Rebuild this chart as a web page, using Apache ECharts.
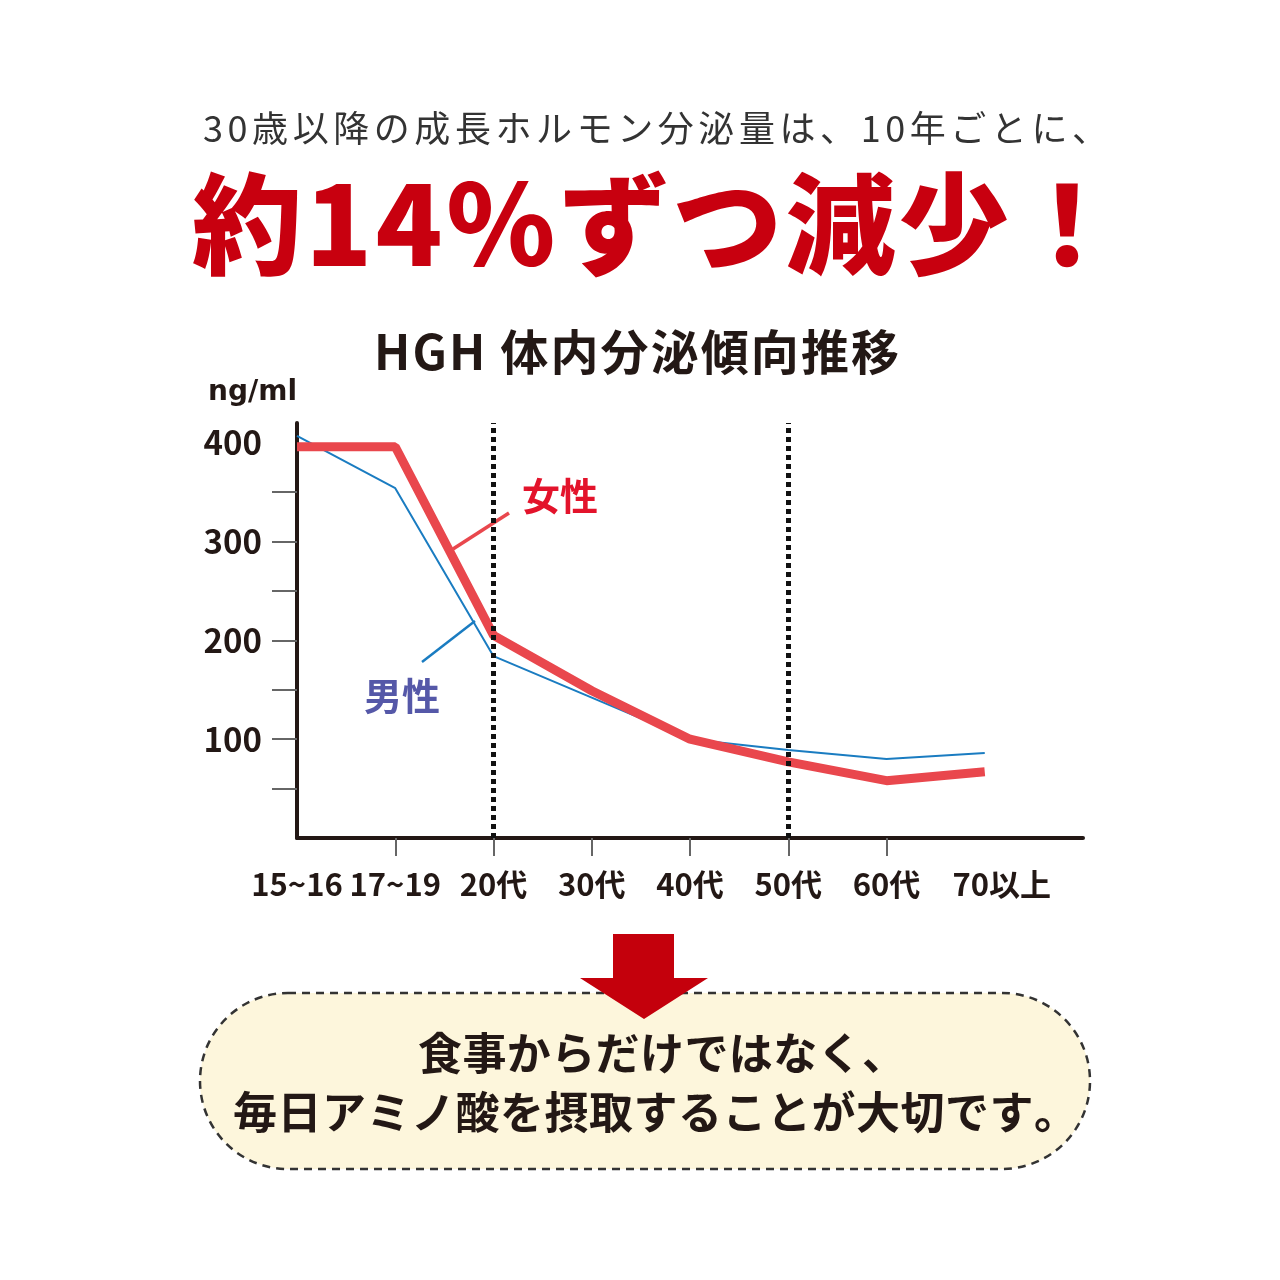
<!DOCTYPE html>
<html lang="ja">
<head>
<meta charset="utf-8">
<title>HGH 体内分泌傾向推移</title>
<script src="https://cdn.jsdelivr.net/npm/echarts@6/dist/echarts.min.js"></script>
<style>
  html, body { margin: 0; padding: 0; background: #ffffff; }
  #chart { width: 1280px; height: 1280px; }
</style>
</head>
<body>
<div id="chart"></div>
<script>
// Age groups along the x axis (the trailing blank slot extends the axis line)
const ageGroups = ['15~16', '17~19', '20代', '30代', '40代', '50代', '60代', '70以上', ''];
// HGH secretion, ng/ml
const femaleValues = [396, 396, 205, 149, 100, 77, 58, 67];
const maleValues = [407, 354, 184, 142, 100, 89, 80, 86];
// Decade boundaries marked with dotted lines
const markedGroups = ['20代', '50代'];
// Y axis labels and minor ticks
const yLabelValues = [100, 200, 300, 400];
const yTickValues = [50, 100, 150, 200, 250, 300, 350];

const headline1 = '30歳以降の成長ホルモン分泌量は、10年ごとに、';
const headline2 = '約14％ずつ減少！';
const chartTitle = 'HGH 体内分泌傾向推移';
const message1 = '食事からだけではなく、';
const message2 = '毎日アミノ酸を摂取することが大切です。';
const femaleName = '女性';
const maleName = '男性';
const unitName = 'ng/ml';

const JP = "'Noto Sans CJK JP', 'Noto Sans', sans-serif";
const INK = '#231815';

// Lay a string out character by character so it fills [x0, x1]
const measureCtx = document.createElement('canvas').getContext('2d');
function spreadText(str, x0, x1, yMid, weight, size, color) {
  const font = weight + ' ' + size + 'px ' + JP;
  measureCtx.font = font;
  const chars = Array.from(str);
  const widths = chars.map(c => measureCtx.measureText(c).width);
  const total = widths.reduce((a, b) => a + b, 0);
  const gap = chars.length > 1 ? (x1 - x0 - total) / (chars.length - 1) : 0;
  let x = x0;
  return chars.map((c, i) => {
    const el = {
      type: 'text',
      x: x,
      y: yMid,
      silent: true,
      style: {
        text: c,
        font: font,
        fill: color,
        align: 'left',
        verticalAlign: 'middle',
        textAlign: 'left',
        textVerticalAlign: 'middle'
      }
    };
    x += widths[i] + gap;
    return el;
  });
}

const chart = echarts.init(document.getElementById('chart'), null, { renderer: 'canvas' });

const graphics = [].concat(
  spreadText(headline1, 203, 1108, 128, 'normal', 36, '#333333'),
  spreadText(headline2, 192, 1122, 224, '900', 110, '#c8000f'),
  spreadText(chartTitle, 374, 899, 352, 'bold', 48, INK),
  [
    // message box
    {
      type: 'rect',
      shape: { x: 200, y: 993, width: 890, height: 176, r: 88 },
      style: { fill: '#fdf6dc', stroke: '#333333', lineWidth: 2.5, lineDash: [8, 6] },
      z: 1, silent: true
    },
    // down arrow
    {
      type: 'polygon',
      shape: { points: [[613, 934], [674, 934], [674, 978], [708, 978], [644, 1019], [580, 978], [613, 978]] },
      style: { fill: '#c4000c' },
      z: 3, silent: true
    },
    // series callouts
    {
      type: 'line',
      shape: { x1: 453, y1: 549, x2: 509, y2: 513 },
      style: { stroke: '#e9474d', lineWidth: 3.5 },
      z: 5, silent: true
    },
    {
      type: 'text', x: 560, y: 496, silent: true, z: 5,
      style: { text: femaleName, font: 'bold 38px ' + JP, fill: '#e3132b', align: 'center', verticalAlign: 'middle', textAlign: 'center', textVerticalAlign: 'middle' }
    },
    {
      type: 'line',
      shape: { x1: 422, y1: 662, x2: 475, y2: 621 },
      style: { stroke: '#1a7cc1', lineWidth: 2.5 },
      z: 5, silent: true
    },
    {
      type: 'text', x: 402, y: 696, silent: true, z: 5,
      style: { text: maleName, font: 'bold 38px ' + JP, fill: '#5558a8', align: 'center', verticalAlign: 'middle', textAlign: 'center', textVerticalAlign: 'middle' }
    }
  ],
  spreadText(message1, 418, 906, 1053, 'bold', 44, INK).map(e => Object.assign(e, { z: 4 })),
  spreadText(message2, 233, 1078, 1112, 'bold', 44, INK).map(e => Object.assign(e, { z: 4 }))
);

const option = {
  backgroundColor: '#ffffff',
  animation: false,
  grid: { left: 297, right: 197, top: 423, bottom: 442, containLabel: false },
  xAxis: {
    type: 'category',
    data: ageGroups,
    boundaryGap: false,
    axisLine: { show: true, lineStyle: { color: INK, width: 4 } },
    axisTick: {
      show: true,
      length: 18,
      interval: (idx) => idx >= 1 && idx <= 6,
      lineStyle: { color: '#666666', width: 2 }
    },
    axisLabel: {
      interval: 0,
      margin: 46,
      verticalAlign: 'middle',
      fontFamily: JP,
      fontWeight: 'bold',
      fontSize: 31,
      color: INK,
      formatter: (value, index) => index === 7 ? '{s|' + value + '}' : value,
      rich: {
        s: { padding: [0, 0, 0, 34], fontFamily: JP, fontWeight: 'bold', fontSize: 31, color: INK }
      }
    },
    splitLine: { show: false }
  },
  yAxis: {
    type: 'value',
    min: 0,
    max: 420,
    name: unitName,
    nameLocation: 'end',
    nameGap: 30,
    nameTextStyle: { fontFamily: "'DejaVu Sans', sans-serif", fontWeight: 'bold', fontSize: 28, color: INK, align: 'right', verticalAlign: 'middle' },
    axisLine: { show: true, lineStyle: { color: INK, width: 4 } },
    axisTick: {
      show: true,
      length: 25,
      customValues: yTickValues,
      lineStyle: { color: '#666666', width: 2 }
    },
    axisLabel: {
      margin: 35,
      customValues: yLabelValues,
      fontFamily: JP,
      fontWeight: 'bold',
      fontSize: 33,
      color: INK
    },
    splitLine: { show: false }
  },
  series: [
    {
      name: maleName,
      type: 'line',
      data: maleValues,
      symbol: 'none',
      lineStyle: { color: '#1a7cc1', width: 2 },
      z: 3,
      silent: true
    },
    {
      name: femaleName,
      type: 'line',
      data: femaleValues,
      symbol: 'none',
      lineStyle: { color: '#e9474d', width: 9 },
      z: 4,
      silent: true,
      markLine: {
        silent: true,
        symbol: ['none', 'none'],
        label: { show: false },
        lineStyle: { color: '#111111', width: 5, type: [5, 4] },
        emphasis: { disabled: true },
        data: markedGroups.map(g => ({ xAxis: g }))
      }
    }
  ],
  graphic: { elements: graphics }
};

chart.setOption(option);
</script>
</body>
</html>
